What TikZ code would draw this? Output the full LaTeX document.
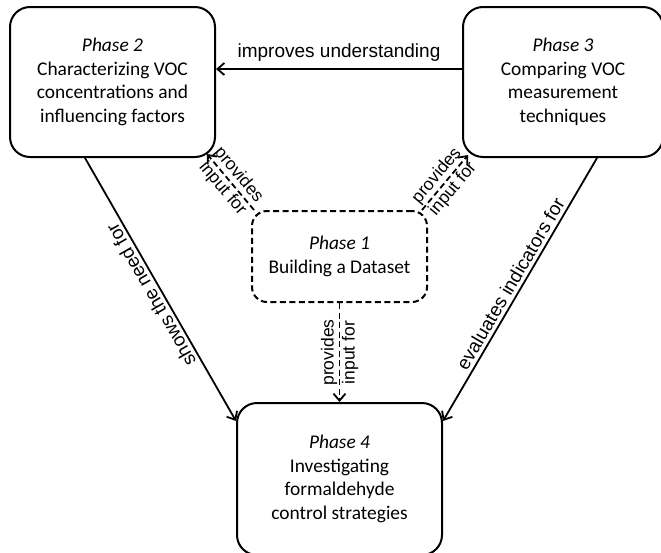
\documentclass[tikz,border=0pt]{standalone}
\usepackage{fontspec}
\setmainfont{Carlito}
\newfontfamily\labelfont{Liberation Sans}
\usetikzlibrary{positioning,arrows.meta}

\begin{document}
\begin{tikzpicture}[x=1pt,y=1pt,
    phase/.style={draw,line width=2pt,rounded corners=20pt,align=center,inner sep=0pt,
                  minimum width=205pt,minimum height=150pt,font=\fontsize{19.4}{23.5}\selectfont},
    dataset/.style={phase,rounded corners=15pt,dash pattern=on 6pt off 3.5pt,
                    minimum width=175pt,minimum height=91pt},
    flow/.style={-{Straight Barb[length=7pt,width=12pt]},line width=1.8pt},
    backflow/.style={{Straight Barb[length=7pt,width=12pt]}-,line width=1.8pt},
    feed/.style={flow,dash pattern=on 6pt off 3.5pt},
    lbl/.style={font=\labelfont\fontsize{19}{21}\selectfont},
    feedlbl/.style={font=\labelfont\fontsize{17.5}{21}\selectfont,align=center,inner sep=0pt}]
  \useasboundingbox (0,0) rectangle (661,-552);

  % the four phases
  \node[phase] (P2) at (112.5,-82) {\textit{Phase 2}\\ Characterizing VOC\\ concentrations and\\ influencing factors};
  \node[phase,right=246pt of P2,minimum width=200pt] (P3) {\textit{Phase 3}\\ Comparing VOC\\ measurement\\ techniques};
  \node[dataset,below=52pt of P2,xshift=227pt] (P1) {\textit{Phase 1}\\ Building a Dataset};
  \node[phase,below=99pt of P1,minimum height=152pt] (P4) {\textit{Phase 4}\\ Investigating\\ formaldehyde\\ control strategies};

  % solid links
  \draw[flow] ([yshift=13pt]P3.west) -- node[lbl,above,yshift=3pt] {improves understanding} ([yshift=13pt]P2.east);
  \draw[backflow] ([yshift=-19pt]P4.north west) -- node[lbl,midway,sloped,allow upside down,above] {shows the need for} ([xshift=-27.5pt]P2.south);
  \draw[flow] ([xshift=34pt]P3.south) -- node[lbl,midway,sloped,above] {evaluates indicators for} ([yshift=-19pt]P4.north east);

  % dataset feeds the other phases
  \draw[feed] ([xshift=3pt]P1.north west) -- node[feedlbl,sloped] {provides\\ input for} ([shift={(-9pt,4pt)}]P2.south east);
  \draw[feed] ([xshift=-6pt]P1.north east) -- node[feedlbl,sloped] {provides\\ input for} ([shift={(6pt,3pt)}]P3.south west);
  \draw[feed] (P1) -- node[feedlbl,rotate=90] {provides\\ input for} (P4);
\end{tikzpicture}
\end{document}
